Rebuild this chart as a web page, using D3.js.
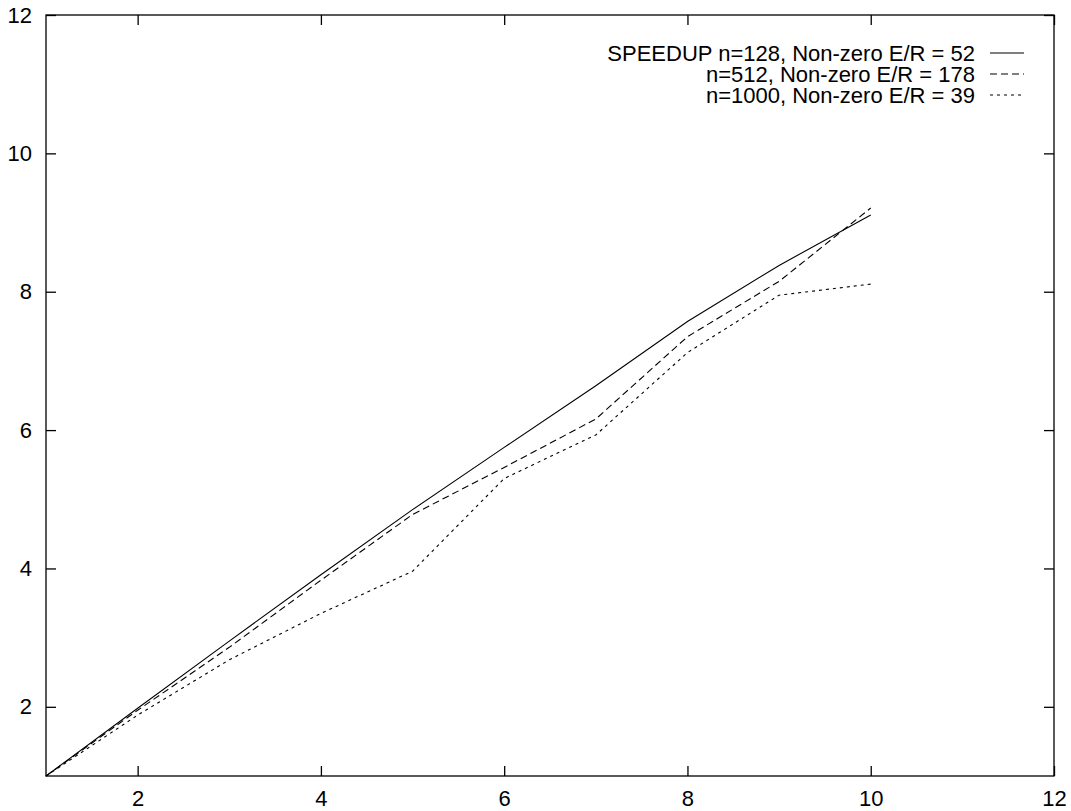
<!DOCTYPE html>
<html>
<head>
<meta charset="utf-8">
<script src="https://cdn.jsdelivr.net/npm/d3@7"></script>
<style>
  html, body { margin: 0; padding: 0; background: #fff; }
  svg text { font-family: "Liberation Sans", Arial, Helvetica, sans-serif; fill: #000; }
</style>
</head>
<body>
<svg id="chart" width="1071" height="811"></svg>
<script>
// ---- data ----
const processors = [1, 2, 3, 4, 5, 6, 7, 8, 9, 10];
const speedup128 = [1, 1.98, 2.95, 3.91, 4.85, 5.75, 6.64, 7.57, 8.38, 9.11];
const speedup512 = [1, 1.95, 2.86, 3.83, 4.78, 5.46, 6.16, 7.35, 8.15, 9.21];
const speedup1000 = [1, 1.88, 2.68, 3.35, 3.96, 5.30, 5.93, 7.12, 7.95, 8.11];
const seriesLabels = [
  "SPEEDUP n=128, Non-zero E/R = 52",
  "n=512, Non-zero E/R = 178",
  "n=1000, Non-zero E/R = 39"
];
const xTicks = [2, 4, 6, 8, 10, 12];
const yTicks = [2, 4, 6, 8, 10, 12];

(function () {
// ---- layout ----
const svg = d3.select("#chart");
const pL = 46, pR = 1054, pT = 15, pB = 776;
const x = d3.scaleLinear().domain([1, 12]).range([pL, pR]);
const y = d3.scaleLinear().domain([1, 12]).range([pB, pT]);
const fontSize = 22;
const tickLen = 10;

const series = [
  { label: seriesLabels[0], values: speedup128, dash: null },
  { label: seriesLabels[1], values: speedup512, dash: "7,4" },
  { label: seriesLabels[2], values: speedup1000, dash: "3,4" }
];

// frame
svg.append("rect")
  .attr("x", pL).attr("y", pT)
  .attr("width", pR - pL).attr("height", pB - pT)
  .attr("fill", "none").attr("stroke", "#000").attr("stroke-width", 1.3);

// axes with inward ticks
const gB = svg.append("g").attr("transform", `translate(0,${pB})`)
  .call(d3.axisBottom(x).tickValues(xTicks).tickSizeInner(-tickLen).tickSizeOuter(0).tickPadding(14));
const gT = svg.append("g").attr("transform", `translate(0,${pT})`)
  .call(d3.axisTop(x).tickValues(xTicks).tickSizeInner(-tickLen).tickSizeOuter(0).tickFormat(""));
const gL = svg.append("g").attr("transform", `translate(${pL},0)`)
  .call(d3.axisLeft(y).tickValues(yTicks).tickSizeInner(-tickLen).tickSizeOuter(0).tickPadding(14));
const gR = svg.append("g").attr("transform", `translate(${pR},0)`)
  .call(d3.axisRight(y).tickValues(yTicks).tickSizeInner(-tickLen).tickSizeOuter(0).tickFormat(""));

[gB, gT, gL, gR].forEach(g => {
  g.select(".domain").remove();
  g.selectAll(".tick line").attr("stroke", "#000").attr("stroke-width", 1.3);
  g.selectAll("text").attr("font-size", fontSize)
    .style("font-family", '"Liberation Sans", Arial, Helvetica, sans-serif').attr("fill", "#000");
});

// lines
const line = d3.line().x((d, i) => x(processors[i])).y(d => y(d));
series.forEach(s => {
  svg.append("path")
    .datum(s.values)
    .attr("d", line)
    .attr("fill", "none")
    .attr("stroke", "#000")
    .attr("stroke-width", 1.1)
    .attr("stroke-dasharray", s.dash);
});

// legend
const legTextRight = 975, legLineX1 = 990, legLineX2 = 1024;
const legRowY0 = 53, legRowStep = 21;
series.forEach((s, i) => {
  const cy = legRowY0 + i * legRowStep;
  svg.append("text")
    .attr("x", legTextRight).attr("y", cy)
    .attr("dy", "0.35em")
    .attr("text-anchor", "end")
    .attr("font-size", fontSize)
    .text(s.label);
  svg.append("line")
    .attr("x1", legLineX1).attr("x2", legLineX2)
    .attr("y1", cy).attr("y2", cy)
    .attr("stroke", "#000").attr("stroke-width", 1.1)
    .attr("stroke-dasharray", s.dash);
});
})();
</script>
</body>
</html>
